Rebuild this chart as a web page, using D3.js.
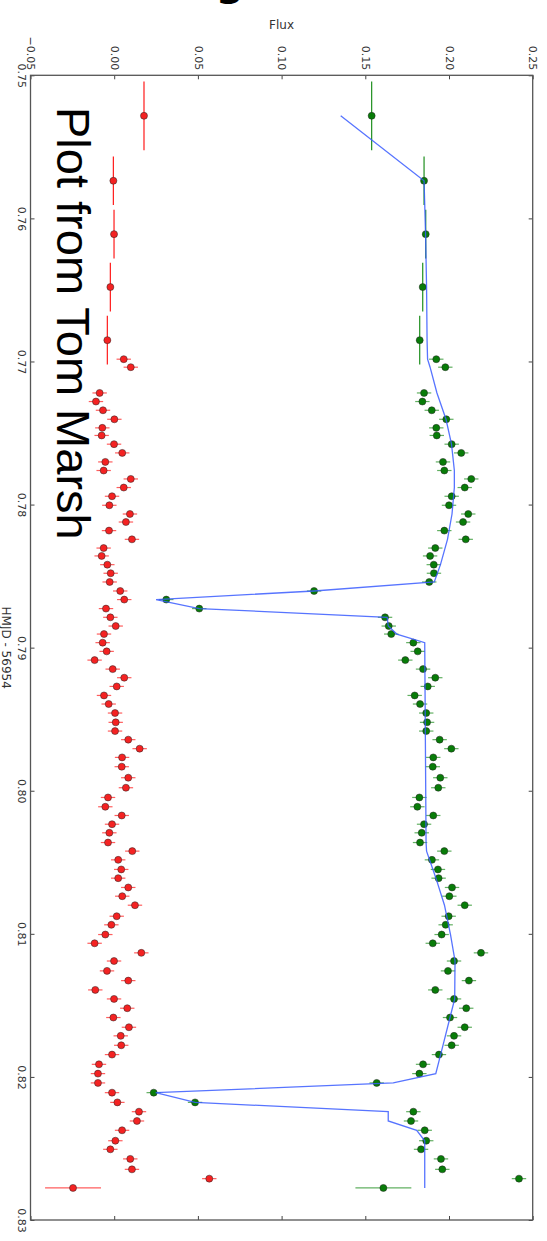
<!DOCTYPE html>
<html>
<head>
<meta charset="utf-8">
<script src="https://cdn.jsdelivr.net/npm/d3@7"></script>
<style>
  body { margin: 0; background: #fff; }
  svg { display: block; }
</style>
</head>
<body>
<svg width="547" height="1241"></svg>
<script>
/// data ///
let times = [0.75283, 0.75737, 0.76110, 0.76480, 0.76851,
    0.76984, 0.77040, 0.77220, 0.77280, 0.77341, 0.77404, 0.77464, 0.77517, 0.77578, 0.77639,
    0.77702, 0.77762, 0.77821, 0.77881, 0.77942, 0.78005, 0.78066, 0.78122, 0.78182, 0.78243,
    0.78304, 0.78359, 0.78420, 0.78480, 0.78541, 0.78604, 0.78664, 0.78727, 0.78788, 0.78849,
    0.78905, 0.78965, 0.79026, 0.79087, 0.79150, 0.79210, 0.79271, 0.79334, 0.79394, 0.79457,
    0.79522, 0.79583, 0.79643, 0.79706, 0.79767, 0.79832, 0.79909, 0.79979, 0.80047, 0.80112,
    0.80173, 0.80234, 0.80294, 0.80362, 0.80422, 0.80483, 0.80550, 0.80611, 0.80676, 0.80737,
    0.80800, 0.80877, 0.80937, 0.81005, 0.81066, 0.81133, 0.81190, 0.81259, 0.81327, 0.81392,
    0.81455, 0.81520, 0.81585, 0.81653, 0.81713, 0.81779, 0.81844, 0.81912, 0.81977, 0.82042,
    0.82110, 0.82178, 0.82243, 0.82308, 0.82373, 0.82446, 0.82506, 0.82573, 0.82646, 0.82711,
    0.82776];

let timeErr = [0.0024, 0.0017, 0.0017, 0.0017, 0.0017];  // only the long exposures, rest are 0

let redFlux = [0.0178, -0.0005, -0.0001, -0.0023, -0.0041,
    0.0057, 0.0099, -0.0087, -0.0109, -0.0067, 0.0001, -0.0071, -0.0075, -0.0001, 0.0048,
    -0.0053, -0.0063, 0.0099, 0.0057, -0.0013, -0.0029, 0.0094, 0.0070, -0.0031, 0.0106,
    -0.0063, -0.0075, -0.0041, -0.0021, -0.0027, 0.0036, 0.0060, -0.0049, -0.0023, 0.0009,
    -0.0061, -0.0069, -0.0045, -0.0117, -0.0009, 0.0060, 0.0015, -0.0061, -0.0033, 0.0005,
    0.0009, 0.0005, 0.0084, 0.0152, 0.0047, 0.0045, 0.0084, 0.0070, -0.0037, -0.0053,
    0.0045, -0.0013, -0.0029, -0.0037, 0.0108, 0.0024, 0.0042, 0.0024, 0.0084, 0.0048,
    0.0124, 0.0015, -0.0017, -0.0053, -0.0117, 0.0162, -0.0001, -0.0043, 0.0084, -0.0113,
    -0.0001, 0.0078, -0.0005, 0.0088, 0.0039, 0.0042, -0.0013, -0.0091, -0.0097, -0.0097,
    -0.0013, 0.0019, 0.0148, 0.0136, 0.0047, 0.0007, -0.0023, 0.0096, 0.0106, 0.0568,
    -0.0246];

let greenFlux = [0.1538, 0.1851, 0.1861, 0.1843, 0.1825,
    0.1924, 0.1978, 0.1851, 0.1841, 0.1897, 0.1984, 0.1924, 0.1927, 0.2016, 0.2073,
    0.1964, 0.1972, 0.2133, 0.2094, 0.2016, 0.2000, 0.2115, 0.2084, 0.1972, 0.2100,
    0.1918, 0.1887, 0.1909, 0.1910, 0.1882, 0.1194, 0.0311, 0.0508, 0.1618, 0.1640,
    0.1655, 0.1787, 0.1813, 0.1739, 0.1845, 0.1918, 0.1873, 0.1795, 0.1827, 0.1864,
    0.1869, 0.1864, 0.1944, 0.2014, 0.1906, 0.1903, 0.1948, 0.1936, 0.1823, 0.1811,
    0.1906, 0.1851, 0.1837, 0.1827, 0.1972, 0.1898, 0.1934, 0.1938, 0.2018, 0.2002,
    0.2094, 0.1998, 0.1980, 0.1956, 0.1903, 0.2191, 0.2030, 0.1994, 0.2119, 0.1918,
    0.2030, 0.2103, 0.2006, 0.2094, 0.2030, 0.2016, 0.1940, 0.1845, 0.1823, 0.1568,
    0.0236, 0.0483, 0.1787, 0.1773, 0.1855, 0.1864, 0.1833, 0.1952, 0.1960, 0.2418,
    0.1608];

// flux error: long exposures, normal cadence, last point
let fluxErrLong = 0.0015;
let fluxErr = 0.0043;
let fluxErrLast = 0.0167;

let modelTime = [0.75283, 0.75737, 0.76110, 0.76480, 0.76851, 0.76984, 0.77040, 0.77220,
    0.77404, 0.77578, 0.77762, 0.77881, 0.78066, 0.78243, 0.78420, 0.78541, 0.78604, 0.78664,
    0.78727, 0.78788, 0.78849, 0.78905, 0.78965, 0.80362, 0.80422, 0.80611, 0.80800, 0.81005,
    0.81190, 0.81455, 0.81585, 0.81779, 0.81977, 0.82042, 0.82110, 0.82178, 0.82243, 0.82308,
    0.82373, 0.82446, 0.82776];
let modelFlux = [0.1353, 0.1851, 0.1860, 0.1866, 0.1869, 0.1872, 0.1887, 0.1928,
    0.1982, 0.2015, 0.2032, 0.2032, 0.2018, 0.1991, 0.1949, 0.1912, 0.1194, 0.0250,
    0.0508, 0.1631, 0.1637, 0.1688, 0.1855, 0.1863, 0.1866, 0.1922, 0.1973, 0.2009,
    0.2036, 0.2034, 0.2006, 0.1964, 0.1921, 0.1667, 0.0248, 0.0483, 0.1637, 0.1637,
    0.1807, 0.1855, 0.1855];

let fluxTicks = [-0.05, 0.00, 0.05, 0.10, 0.15, 0.20, 0.25];
let timeTicks = [0.75, 0.76, 0.77, 0.78, 0.79, 0.80, 0.81, 0.82, 0.83];


/// plot is drawn rotated: time runs down, flux runs right ///
let boxLeft = 30.5, boxRight = 532.7, boxTop = 75.3, boxBottom = 1220;

let svg = d3.select("svg");

let xScale = d3.scaleLinear()
    .domain([-0.05, 0.25])
    .range([boxLeft, boxRight]);

let yScale = d3.scaleLinear()
    .domain([0.75, 0.83])
    .range([boxTop, boxBottom]);

let fmt = d3.format(".2f");

/// axes, ticks pointing inward ///
let topAxis = svg.append("g")
    .attr("transform", `translate(0, ${boxTop})`)
    .call(d3.axisTop(xScale).tickValues(fluxTicks).tickSizeInner(-4).tickSizeOuter(0).tickFormat(fmt));

topAxis.selectAll("text")
    .attr("x", 0)
    .attr("y", 0)
    .attr("dy", "0.35em")
    .attr("transform", "translate(0,-5) rotate(90)")
    .style("text-anchor", "end");

svg.append("g")
    .attr("transform", `translate(0, ${boxBottom})`)
    .call(d3.axisBottom(xScale).tickValues(fluxTicks).tickSizeInner(-4).tickSizeOuter(0).tickFormat(""));

let leftAxis = svg.append("g")
    .attr("transform", `translate(${boxLeft}, 0)`)
    .call(d3.axisLeft(yScale).tickValues(timeTicks).tickSizeInner(-4).tickSizeOuter(0).tickFormat(fmt));

leftAxis.selectAll("text")
    .attr("x", 0)
    .attr("y", 0)
    .attr("dy", 0)
    .attr("transform", "translate(-12.5,0) rotate(90)")
    .style("text-anchor", "middle");

svg.append("g")
    .attr("transform", `translate(${boxRight}, 0)`)
    .call(d3.axisRight(yScale).tickValues(timeTicks).tickSizeInner(-4).tickSizeOuter(0).tickFormat(""));

svg.selectAll(".domain").remove();
svg.selectAll(".tick line").attr("stroke", "#444");
svg.selectAll(".tick text")
    .attr("fill", "#333")
    .style("font-family", "DejaVu Sans")
    .style("font-size", "11px");

/// frame ///
svg.append("rect")
    .attr("x", boxLeft)
    .attr("y", boxTop)
    .attr("width", boxRight - boxLeft)
    .attr("height", boxBottom - boxTop)
    .attr("fill", "none")
    .attr("stroke", "#555")
    .attr("stroke-width", 1.3);

/// one error bar + marker group per series ///
function drawSeries(flux, lineColor, faceColor) {
    let pts = flux.map((f, i) => ({
        t: times[i],
        f: f,
        te: timeErr[i] || 0,
        fe: i < 5 ? fluxErrLong : (i == flux.length - 1 ? fluxErrLast : fluxErr)
    }));

    let g = svg.append("g");

    g.selectAll(".ferr")
        .data(pts)
        .enter()
        .append("line")
        .attr("class", "ferr")
        .attr("x1", d => xScale(d.f - d.fe))
        .attr("x2", d => xScale(d.f + d.fe))
        .attr("y1", d => yScale(d.t))
        .attr("y2", d => yScale(d.t))
        .attr("stroke", lineColor)
        .attr("stroke-opacity", 0.7)
        .attr("stroke-width", 1.2);

    g.selectAll(".terr")
        .data(pts.filter(d => d.te > 0))
        .enter()
        .append("line")
        .attr("class", "terr")
        .attr("x1", d => xScale(d.f))
        .attr("x2", d => xScale(d.f))
        .attr("y1", d => yScale(d.t - d.te))
        .attr("y2", d => yScale(d.t + d.te))
        .attr("stroke", lineColor)
        .attr("stroke-width", 1.2);

    g.selectAll("circle")
        .data(pts)
        .enter()
        .append("circle")
        .attr("cx", d => xScale(d.f))
        .attr("cy", d => yScale(d.t))
        .attr("r", 3.5)
        .attr("fill", faceColor)
        .attr("stroke", "#222")
        .attr("stroke-width", 0.5);
}

drawSeries(redFlux, "#ff1a1a", "#f42222");
drawSeries(greenFlux, "#1f8f1f", "#087c08");

/// model line ///
let model = modelTime.map((t, i) => ({ t: t, f: modelFlux[i] }));

svg.append("path")
    .datum(model)
    .attr("fill", "none")
    .attr("stroke", "#3a5cff")
    .attr("stroke-opacity", 0.85)
    .attr("stroke-width", 1.3)
    .attr("d", d3.line().x(d => xScale(d.f)).y(d => yScale(d.t)));

/// labels ///
svg.append("text")
    .attr("x", (boxLeft + boxRight) / 2)
    .attr("y", 29)
    .attr("text-anchor", "middle")
    .attr("fill", "#333")
    .style("font-family", "DejaVu Sans")
    .style("font-size", "12px")
    .text("Flux");

svg.append("text")
    .attr("transform", `translate(1.5, ${(boxTop + boxBottom) / 2}) rotate(90)`)
    .attr("text-anchor", "middle")
    .attr("fill", "#333")
    .style("font-family", "DejaVu Sans")
    .style("font-size", "12px")
    .text("HMJD - 56954");

svg.append("text")
    .attr("transform", "translate(57, 107) rotate(90)")
    .attr("text-anchor", "start")
    .attr("fill", "#000")
    .style("font-family", "Liberation Sans")
    .style("font-size", "47px")
    .text("Plot from Tom Marsh");

// bit of a title cut off at the top edge
svg.append("text")
    .attr("x", 230)
    .attr("y", -5)
    .attr("text-anchor", "middle")
    .attr("fill", "#000")
    .style("font-family", "DejaVu Sans")
    .style("font-weight", "bold")
    .style("font-size", "40px")
    .text("g");
</script>
</body>
</html>
